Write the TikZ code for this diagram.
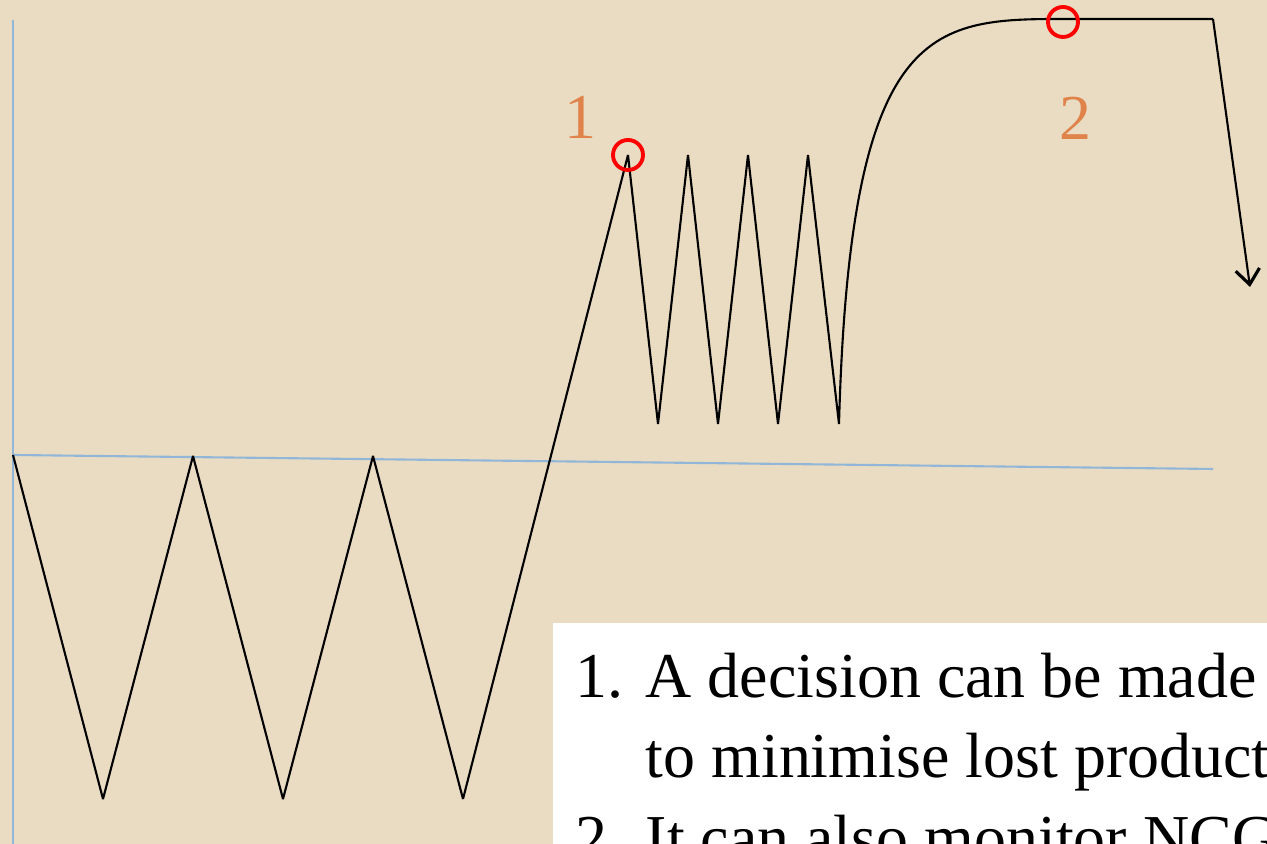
\documentclass[tikz,border=0pt]{standalone}
\usepackage{fontspec}
\setmainfont{Liberation Serif}
\usepackage{xcolor}
\usepackage{tikz}
\usetikzlibrary{arrows.meta, positioning}

\definecolor{paper}{HTML}{EADCC2}
\definecolor{axisblue}{HTML}{92B6D8}
\definecolor{labelorange}{HTML}{E0834A}
\definecolor{markred}{HTML}{FF0000}

\begin{document}
\begin{tikzpicture}[
  axis/.style={draw=axisblue, line width=0.6pt},
  trace/.style={draw=black, line width=0.6pt, line join=bevel},
  arr/.style={-{Straight Barb[length=1.5mm, width=2.4mm, line width=0.9pt]}, line width=0.6pt},
  marker/.style={draw=markred, line width=1.1pt},
  num/.style={text=labelorange, font=\fontsize{18.2}{20}\selectfont, inner sep=0pt},
  note/.style={anchor=base west, font=\fontsize{18.2}{20}\selectfont, inner sep=0pt},
]

% Frame
\useasboundingbox (0,0) rectangle (12.67,8.44);
\clip (0,0) rectangle (12.67,8.44);
\fill[paper] (0,0) rectangle (12.67,8.44);

% Axes
\draw[axis] (0.13,8.24) -- (0.13,-0.1);
\draw[axis] (0.13,3.89) -- (12.13,3.75);

% Trace
\coordinate (p1) at (6.28,6.89);
\coordinate (top) at (10.63,8.25);
\coordinate (corner) at (12.13,8.25);
\coordinate (tip) at (12.50,5.57);
\draw[trace] (0.13,3.89) -- (1.03,0.45) -- (1.93,3.88) -- (2.83,0.45)
  -- (3.73,3.88) -- (4.63,0.45) -- (p1)
  -- (6.58,4.20) -- (6.88,6.89) -- (7.18,4.20) -- (7.48,6.89)
  -- (7.78,4.20) -- (8.08,6.89) -- (8.39,4.20)
  .. controls (8.50,8.20) and (9.30,8.25) .. (top) -- (corner);
\draw[arr] (corner) -- (tip);

% Markers
\draw[marker] (p1) circle (0.15);
\draw[marker] (10.63,8.22) circle (0.15);
\node[num] (n1) at (5.80,7.27) {1};
\node[num] (n2) at (10.75,7.26) {2};

% Notes
\fill[white] (5.53,-0.1) rectangle (12.8,2.21);
\node[note] (i1) at (5.75,1.46) {1.};
\node[note] (t1) at (6.45,1.46) {A decision can be made};
\node[note] (t2) at (6.45,0.66) {to minimise lost product};
\node[note] (i2) at (5.75,-0.16) {2.};
\node[note] (t3) at (6.45,-0.16) {It can also monitor NCG};

\end{tikzpicture}
\end{document}
